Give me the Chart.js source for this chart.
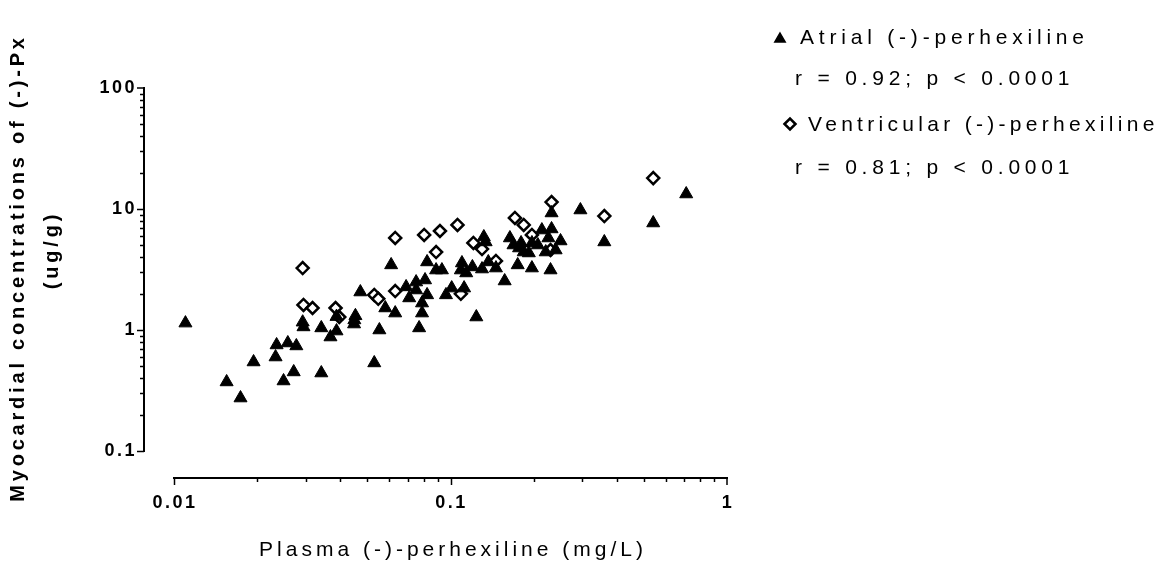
<!DOCTYPE html>
<html>
<head>
<meta charset="utf-8">
<script src="https://cdn.jsdelivr.net/npm/chart.js@4/dist/chart.umd.min.js"></script>
<style>
  html, body { margin: 0; padding: 0; background: #fff; }
  #wrap { width: 1176px; height: 562px; }
</style>
</head>
<body>
<div id="wrap"><canvas id="c" width="1176" height="562"></canvas></div>
<script>
// atrial (-)-perhexiline, plasma (mg/L) vs myocardial (ug/g)
const atrialX = [0.0110, 0.0155, 0.0174, 0.0194, 0.0235, 0.0233, 0.0258, 0.0277, 0.0271, 0.0249,
  0.0341, 0.0292, 0.0294, 0.0341, 0.0368, 0.0387, 0.0387, 0.0449, 0.0453, 0.0448,
  0.0472, 0.0553, 0.0530, 0.0581, 0.0631, 0.0610, 0.0691, 0.0751, 0.0809, 0.0751,
  0.0709, 0.0823, 0.0789, 0.0789, 0.0770, 0.0963, 0.101, 0.110, 0.109, 0.114,
  0.120, 0.124, 0.0931, 0.112, 0.130, 0.137, 0.146, 0.132, 0.134, 0.157,
  0.164, 0.169, 0.180, 0.184, 0.192, 0.175, 0.197, 0.207, 0.214, 0.232,
  0.226, 0.250, 0.221, 0.240, 0.230, 0.232, 0.295, 0.360, 0.541, 0.712,
  0.0823, 0.0887, 0.177, 0.197];
const atrialY = [1.14, 0.372, 0.274, 0.544, 0.752, 0.598, 0.781, 0.738, 0.450, 0.379,
  0.441, 1.16, 1.06, 1.04, 0.875, 0.98, 1.29, 1.21, 1.31, 1.12,
  2.06, 1.00, 0.534, 1.52, 1.38, 3.45, 2.27, 2.49, 2.59, 2.14,
  1.84, 1.95, 1.67, 1.38, 1.04, 1.95, 2.22, 3.58, 3.13, 2.96,
  3.32, 1.28, 3.13, 2.22, 3.19, 3.65, 3.25, 5.87, 5.34, 2.54,
  5.76, 5.04, 5.24, 4.41, 4.33, 3.45, 3.25, 5.04, 6.70, 6.84,
  5.76, 5.44, 4.41, 4.58, 3.13, 9.27, 9.81, 5.34, 7.66, 13.3,
  3.65, 3.13, 4.76, 5.24];

// ventricular (-)-perhexiline
const ventX = [0.0292, 0.0294, 0.0317, 0.0384, 0.0396, 0.0530, 0.0548, 0.0631, 0.0631, 0.0803,
  0.0916, 0.106, 0.121, 0.0887, 0.109, 0.130, 0.146, 0.171, 0.184, 0.197,
  0.232, 0.360, 0.541, 0.230];
const ventY = [3.25, 1.61, 1.52, 1.52, 1.28, 1.95, 1.81, 2.10, 5.76, 6.10,
  6.58, 7.38, 5.24, 4.41, 1.99, 4.67, 3.72, 8.43, 7.38, 6.10,
  11.4, 8.75, 18.0, 4.58];

const xTicks = [0.01, 0.1, 1];
const yTicks = [0.1, 1, 10, 100];
const xTitle = 'Plasma (-)-perhexiline (mg/L)';
const yTitle = ['Myocardial concentrations of (-)-Px', '(ug/g)'];
const legendNames = ['Atrial (-)-perhexiline', 'Ventricular (-)-perhexiline'];
const legendStats = ['r = 0.92; p < 0.0001', 'r = 0.81; p < 0.0001'];

const toPoints = (xs, ys) => xs.map((v, i) => ({ x: v, y: ys[i] }));

// prism style detached axes, labels and legend
const prismAxes = {
  id: 'prismAxes',
  afterDraw(chart) {
    const { ctx } = chart;
    const x = chart.scales.x;
    const y = chart.scales.y;
    const yAxisX = 144;
    const xAxisY = 478;
    ctx.save();
    ctx.strokeStyle = '#000';
    ctx.fillStyle = '#000';
    ctx.lineWidth = 2;

    // y axis line + ticks
    ctx.beginPath();
    ctx.moveTo(yAxisX, y.getPixelForValue(100) - 1);
    ctx.lineTo(yAxisX, y.getPixelForValue(0.1) + 1);
    ctx.stroke();
    ctx.lineWidth = 1.5;
    for (let d = 0.1; d < 100; d *= 10) {
      for (let m = 1; m < 10; m++) {
        const py = Math.round(y.getPixelForValue(d * m)) + 0.5;
        const len = m === 1 ? 7 : 4;
        ctx.beginPath();
        ctx.moveTo(yAxisX, py);
        ctx.lineTo(yAxisX - len, py);
        ctx.stroke();
      }
    }
    ctx.beginPath();
    ctx.moveTo(yAxisX, y.getPixelForValue(100));
    ctx.lineTo(yAxisX - 7, y.getPixelForValue(100));
    ctx.stroke();

    // x axis line + ticks
    ctx.lineWidth = 2;
    ctx.beginPath();
    ctx.moveTo(x.getPixelForValue(0.01) - 1, xAxisY);
    ctx.lineTo(x.getPixelForValue(1) + 1, xAxisY);
    ctx.stroke();
    ctx.lineWidth = 1.5;
    for (let d = 0.01; d < 1; d *= 10) {
      for (let m = 1; m < 10; m++) {
        const px = Math.round(x.getPixelForValue(d * m)) + 0.5;
        const len = m === 1 ? 7 : 4;
        ctx.beginPath();
        ctx.moveTo(px, xAxisY);
        ctx.lineTo(px, xAxisY + len);
        ctx.stroke();
      }
    }
    ctx.beginPath();
    ctx.moveTo(x.getPixelForValue(1), xAxisY);
    ctx.lineTo(x.getPixelForValue(1), xAxisY + 7);
    ctx.stroke();

    // tick labels
    ctx.font = 'bold 18px "Liberation Sans", Arial, sans-serif';
    ctx.letterSpacing = '2.5px';
    ctx.textBaseline = 'middle';
    ctx.textAlign = 'right';
    yTicks.forEach(v => ctx.fillText(String(v), 137, y.getPixelForValue(v)));
    ctx.textAlign = 'center';
    xTicks.forEach(v => ctx.fillText(String(v), x.getPixelForValue(v) + 1, 503));

    // axis titles
    ctx.font = '21px "Liberation Sans", Arial, sans-serif';
    ctx.letterSpacing = '4px';
    ctx.fillText(xTitle, 453, 550);

    ctx.font = 'bold 20px "Liberation Sans", Arial, sans-serif';
    ctx.letterSpacing = '3.8px';
    ctx.save();
    ctx.translate(18, 268);
    ctx.rotate(-Math.PI / 2);
    ctx.fillText(yTitle[0], 0, 0);
    ctx.restore();
    ctx.save();
    ctx.translate(52, 250);
    ctx.rotate(-Math.PI / 2);
    ctx.fillText(yTitle[1], 0, 0);
    ctx.restore();

    // legend
    Chart.helpers.drawPoint(ctx, { pointStyle: 'triangle', radius: 6, borderWidth: 1 }, 780, 39);
    ctx.fillStyle = '#fff';
    ctx.lineWidth = 2.5;
    Chart.helpers.drawPoint(ctx, { pointStyle: 'rectRot', radius: 5.5, borderWidth: 2.5 }, 790, 124);
    ctx.fillStyle = '#000';
    ctx.font = '21px "Liberation Sans", Arial, sans-serif';
    ctx.letterSpacing = '4.8px';
    ctx.textAlign = 'left';
    ctx.fillText(legendNames[0], 800, 38);
    ctx.fillText(legendStats[0], 795, 79);
    ctx.letterSpacing = '4.3px';
    ctx.fillText(legendNames[1], 808, 125);
    ctx.letterSpacing = '4.8px';
    ctx.fillText(legendStats[1], 795, 168);
    ctx.restore();
  }
};

new Chart(document.getElementById('c'), {
  type: 'scatter',
  data: {
    datasets: [
      {
        label: legendNames[0],
        data: toPoints(atrialX, atrialY),
        pointStyle: 'triangle',
        pointRadius: 7.5,
        backgroundColor: '#000',
        borderColor: '#000',
        borderWidth: 1,
        clip: false
      },
      {
        label: legendNames[1],
        data: toPoints(ventX, ventY),
        pointStyle: 'rectRot',
        pointRadius: 6,
        backgroundColor: '#fff',
        borderColor: '#000',
        borderWidth: 2.5,
        clip: false
      }
    ]
  },
  options: {
    responsive: false,
    devicePixelRatio: 1,
    animation: false,
    layout: { padding: { left: 174, right: 449, top: 88, bottom: 111 } },
    plugins: { legend: { display: false }, tooltip: { enabled: false } },
    scales: {
      x: { type: 'logarithmic', min: 0.01, max: 1, display: false },
      y: { type: 'logarithmic', min: 0.1, max: 100, display: false }
    }
  },
  plugins: [prismAxes]
});
</script>
</body>
</html>
